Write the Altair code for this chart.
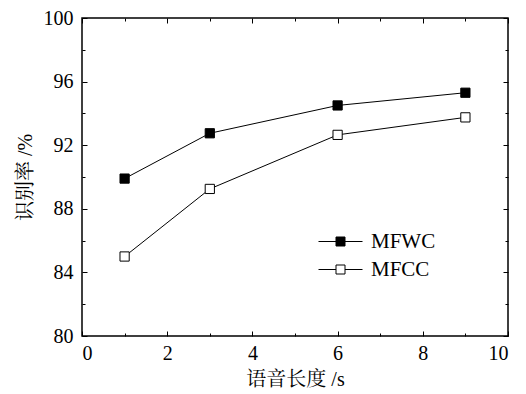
import altair as alt
import pandas as pd

# ---- data ----
lengths = [1, 3, 6, 9]
mfwc = [89.9, 92.75, 94.5, 95.3]
mfcc = [85.0, 89.25, 92.65, 93.75]
series_names = ["MFWC", "MFCC"]
x_major = [0, 2, 4, 6, 8, 10]
x_minor = [1, 3, 5, 7, 9]
y_major = [80, 84, 88, 92, 96, 100]
y_minor = [82, 86, 90, 94, 98]

rows = []
for name, vals in zip(series_names, [mfwc, mfcc]):
    for x, v in zip(lengths, vals):
        rows.append({"len": x, "rate": v, "series": name})
df = pd.DataFrame(rows)

SERIF = "Liberation Serif"
CJK = "Liberation Serif, Noto Serif CJK SC"

xs = alt.Scale(domain=[0, 10], nice=False, zero=False)
ys = alt.Scale(domain=[80, 100], nice=False, zero=False)

base = alt.Chart(df)


def tick_axis(orient, values, size):
    return alt.Axis(orient=orient, values=values, tickSize=size, offset=-size,
                    labels=False, domain=False, title=None, grid=False,
                    tickColor="black", tickWidth=1)


# line layer carrying the label axes
lines = base.mark_line(color="black", strokeWidth=1).encode(
    x=alt.X("len:Q", scale=xs, axis=alt.Axis(
        orient="bottom", values=x_major, ticks=False, domain=False, grid=False,
        labelFont=SERIF, labelFontSize=20, labelColor="black", labelPadding=7,
        title="语音长度 /s", titleFont=CJK, titleFontSize=20, titleFontWeight="normal",
        titleColor="black", titlePadding=6)),
    y=alt.Y("rate:Q", scale=ys, axis=alt.Axis(
        orient="left", values=y_major, ticks=False, domain=False, grid=False,
        labelFont=SERIF, labelFontSize=20, labelColor="black", labelPadding=9,
        title="识别率 /%", titleFont=CJK, titleFontSize=20, titleFontWeight="normal",
        titleColor="black", titlePadding=8)),
    detail="series:N",
)

legend_path = "M-2.2,0H-0.45M0.45,0H2.2M-0.45,-0.45H0.45V0.45H-0.45Z"

points = base.mark_point(shape="square", filled=True, size=85, stroke="black",
                         strokeWidth=1, opacity=1).encode(
    x=alt.X("len:Q", scale=xs, axis=None),
    y=alt.Y("rate:Q", scale=ys, axis=None),
    fill=alt.Fill("series:N", scale=alt.Scale(domain=series_names, range=["black", "white"]),
                  legend=alt.Legend(
                      title=None, orient="none", legendX=248, legendY=213,
                      symbolType=legend_path, symbolSize=400, symbolStrokeColor="black",
                      symbolStrokeWidth=1, labelFont=SERIF, labelFontSize=21,
                      labelColor="black", labelOffset=20, rowPadding=6, padding=0)),
)

tick_layers = []
for xo, yo, xv, yv, sz in [("bottom", "left", x_major, y_major, 5),
                           ("bottom", "left", x_minor, y_minor, 3),
                           ("top", "right", x_major, y_major, 5),
                           ("top", "right", x_minor, y_minor, 3)]:
    tick_layers.append(base.mark_point(opacity=0).encode(
        x=alt.X("len:Q", scale=xs, axis=tick_axis(xo, xv, sz)),
        y=alt.Y("rate:Q", scale=ys, axis=tick_axis(yo, yv, sz)),
    ))

chart = alt.layer(lines, points, *tick_layers).resolve_scale(
    x="shared", y="shared"
).resolve_axis(
    x="independent", y="independent"
).properties(
    width=426, height=318,
    autosize=alt.AutoSizeParams(type="none"),
    padding={"left": 82, "top": 18, "right": 18, "bottom": 58},
    background="white",
).configure(
    font=SERIF
).configure_axis(
    labelFont=SERIF, titleFont=CJK
).configure_legend(
    labelFont=SERIF
).configure_view(stroke="black", strokeWidth=1.5)

chart.save("out.html", embed_options={"renderer": "svg", "actions": False})
